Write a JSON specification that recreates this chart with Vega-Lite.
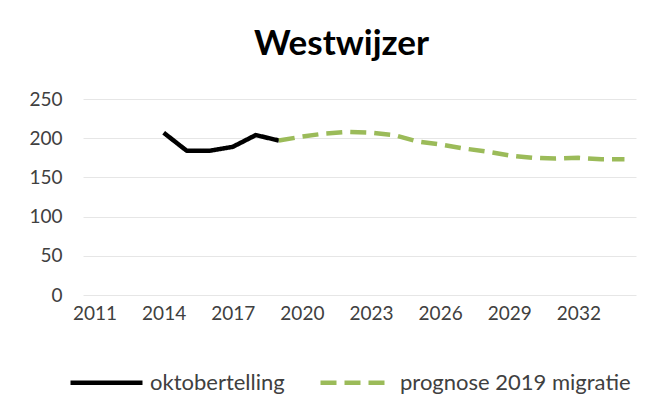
{
  "$schema": "https://vega.github.io/schema/vega-lite/v6.json",
  "autosize": "none",
  "width": 553,
  "height": 196,
  "padding": {"left": 83, "top": 99, "right": 31, "bottom": 123},
  "background": "white",
  "config": {
    "view": {"stroke": null},
    "font": "Lato",
    "axis": {"labelFont": "Lato", "labelFontSize": 19, "labelColor": "#404040", "gridColor": "#E6E6E6", "gridWidth": 1, "ticks": false, "domain": false, "title": null}
  },
  "title": {"text": "Westwijzer", "font": "Lato", "fontSize": 35, "fontWeight": "bold", "color": "#000000", "anchor": "middle", "dx": -18, "offset": 28},
  "data": {"values": [
    {"year": 2014, "value": 207, "series": "oktobertelling"},
    {"year": 2015, "value": 184, "series": "oktobertelling"},
    {"year": 2016, "value": 184, "series": "oktobertelling"},
    {"year": 2017, "value": 189, "series": "oktobertelling"},
    {"year": 2018, "value": 204, "series": "oktobertelling"},
    {"year": 2019, "value": 197, "series": "oktobertelling"},
    {"year": 2019, "value": 197, "series": "prognose 2019 migratie"},
    {"year": 2020, "value": 202, "series": "prognose 2019 migratie"},
    {"year": 2021, "value": 206, "series": "prognose 2019 migratie"},
    {"year": 2022, "value": 208, "series": "prognose 2019 migratie"},
    {"year": 2023, "value": 207, "series": "prognose 2019 migratie"},
    {"year": 2024, "value": 204, "series": "prognose 2019 migratie"},
    {"year": 2025, "value": 196, "series": "prognose 2019 migratie"},
    {"year": 2026, "value": 192, "series": "prognose 2019 migratie"},
    {"year": 2027, "value": 187, "series": "prognose 2019 migratie"},
    {"year": 2028, "value": 183, "series": "prognose 2019 migratie"},
    {"year": 2029, "value": 178, "series": "prognose 2019 migratie"},
    {"year": 2030, "value": 175, "series": "prognose 2019 migratie"},
    {"year": 2031, "value": 174, "series": "prognose 2019 migratie"},
    {"year": 2032, "value": 175, "series": "prognose 2019 migratie"},
    {"year": 2033, "value": 173, "series": "prognose 2019 migratie"},
    {"year": 2034, "value": 173, "series": "prognose 2019 migratie"}
  ]},
  "mark": {"type": "line", "strokeWidth": 4.5, "strokeCap": "butt", "strokeJoin": "round"},
  "encoding": {
    "x": {"field": "year", "type": "quantitative", "scale": {"domain": [2010.5, 2034.5], "nice": false, "zero": false},
      "axis": {"values": [2011, 2014, 2017, 2020, 2023, 2026, 2029, 2032], "format": "d", "grid": false, "labelPadding": 9, "labelFlush": false}},
    "y": {"field": "value", "type": "quantitative", "scale": {"domain": [0, 250], "nice": false},
      "axis": {"values": [0, 50, 100, 150, 200, 250], "grid": true, "labelPadding": 21}},
    "color": {"field": "series", "type": "nominal",
      "scale": {"domain": ["oktobertelling", "prognose 2019 migratie"], "range": ["#000000", "#9BBB59"]},
      "legend": {"title": null, "orient": "none", "direction": "horizontal", "legendX": -15, "legendY": 245,
        "symbolType": "stroke", "symbolSize": 5184, "symbolStrokeWidth": 4.5, "labelFont": "Lato", "labelFontSize": 22, "labelColor": "#404040", "labelOffset": 5, "columnPadding": 26, "labelLimit": 400}},
    "strokeDash": {"field": "series", "type": "nominal",
      "scale": {"domain": ["oktobertelling", "prognose 2019 migratie"], "range": [[1, 0], [16, 8]]},
      "legend": null}
  }
}
